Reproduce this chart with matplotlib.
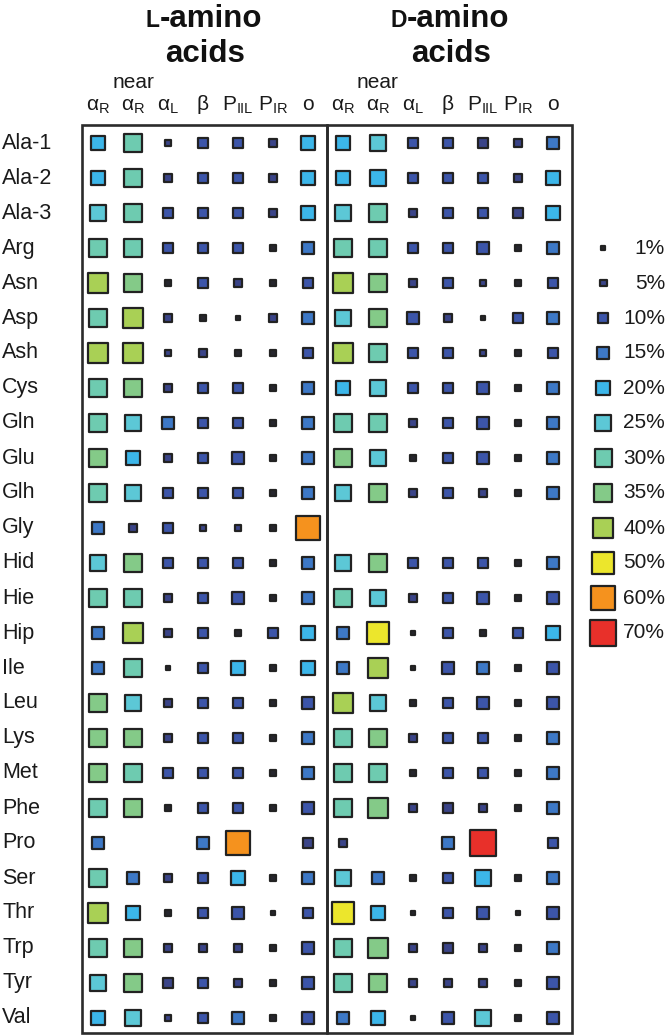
import numpy as np
import matplotlib
matplotlib.use('Agg')
import matplotlib.pyplot as plt
from matplotlib.colors import ListedColormap, BoundaryNorm
from matplotlib.patches import Rectangle

plt.rcParams['font.family'] = ['Liberation Sans', 'DejaVu Sans']

residues = ['Ala-1', 'Ala-2', 'Ala-3', 'Arg', 'Asn', 'Asp', 'Ash', 'Cys', 'Gln',
            'Glu', 'Glh', 'Gly', 'Hid', 'Hie', 'Hip', 'Ile', 'Leu', 'Lys', 'Met',
            'Phe', 'Pro', 'Ser', 'Thr', 'Trp', 'Tyr', 'Val']

state_labels = [r'α$_\mathregular{R}$', r'α$_\mathregular{R}$', r'α$_\mathregular{L}$',
                'β', r'P$_\mathregular{IIL}$', r'P$_\mathregular{IR}$', 'o']

N = None
# columns: aR, near aR, aL, beta, PIIL, PIR, o   (percent population)
L_values = [
    [22, 30, 5, 11, 10, 6, 20],
    [22, 30, 8, 11, 10, 7, 21],
    [26, 30, 10, 10, 10, 6, 21],
    [31, 33, 10, 11, 12, 4, 16],
    [42, 36, 3, 10, 7, 4, 12],
    [31, 44, 7, 4, 1, 6, 16],
    [42, 41, 5, 7, 4, 4, 11],
    [32, 36, 6, 10, 10, 4, 16],
    [30, 27, 15, 10, 11, 4, 16],
    [35, 23, 6, 10, 13, 4, 16],
    [31, 27, 12, 11, 11, 4, 16],
    [17, 6, 12, 5, 5, 3, 62],
    [26, 35, 10, 10, 10, 4, 16],
    [33, 33, 6, 10, 13, 3, 15],
    [15, 44, 8, 10, 4, 10, 20],
    [15, 31, 1, 11, 21, 3, 23],
    [37, 29, 6, 10, 12, 3, 13],
    [35, 35, 6, 10, 10, 3, 15],
    [35, 30, 12, 10, 10, 3, 15],
    [31, 37, 3, 10, 10, 4, 14],
    [15, N, N, 15, 60, N, 9],
    [30, 16, 6, 10, 21, 3, 15],
    [42, 21, 3, 10, 13, 2, 12],
    [33, 37, 7, 7, 7, 4, 14],
    [27, 35, 9, 10, 8, 4, 14],
    [21, 29, 5, 10, 17, 3, 14],
]

D_values = [
    [22, 26, 12, 10, 9, 6, 17],
    [22, 24, 11, 11, 11, 6, 21],
    [26, 30, 6, 11, 11, 9, 21],
    [32, 31, 10, 10, 13, 4, 16],
    [42, 37, 7, 10, 5, 4, 11],
    [27, 37, 14, 7, 1, 10, 16],
    [41, 33, 11, 11, 5, 4, 10],
    [22, 27, 12, 11, 13, 4, 16],
    [31, 31, 7, 11, 13, 4, 16],
    [35, 26, 4, 12, 14, 4, 16],
    [28, 37, 7, 10, 8, 4, 16],
    [N, N, N, N, N, N, N],
    [26, 35, 11, 11, 10, 4, 16],
    [33, 29, 7, 11, 14, 3, 14],
    [15, 50, 1, 12, 3, 12, 22],
    [15, 45, 2, 14, 16, 3, 14],
    [40, 28, 3, 11, 13, 3, 14],
    [34, 35, 6, 10, 11, 3, 15],
    [34, 34, 3, 12, 12, 4, 15],
    [31, 38, 7, 9, 8, 4, 15],
    [6, N, N, 16, 70, N, 11],
    [29, 16, 4, 11, 24, 3, 15],
    [50, 23, 1, 10, 13, 2, 14],
    [31, 38, 7, 9, 8, 3, 15],
    [31, 37, 6, 7, 7, 3, 14],
    [15, 22, 2, 14, 28, 3, 14],
]

legend_values = [1, 5, 10, 15, 20, 25, 30, 35, 40, 50, 60, 70]
legend_colors = ['#26262e', '#3a4488', '#3c55a9', '#3d78c6', '#3cb6e9', '#5cc8d6',
                 '#6ecbb0', '#84ca88', '#a9d055', '#ece62c', '#f5921e', '#e8302a']

cmap = ListedColormap(legend_colors)
norm = BoundaryNorm([0] + legend_values[1:] + [101], cmap.N)


def size_of(v):
    return 5.0 * np.asarray(v, dtype=float)


fig = plt.figure(figsize=(6.66, 10.36), dpi=100)
ax = fig.add_axes([0, 0, 1, 1])
# pixel-like layout: column i at 98 + 35 i px, row j at 143 + 35 j px
ax.set_xlim(-98 / 35, (666 - 98) / 35)
ax.set_ylim((1036 - 143) / 35, -143 / 35)
ax.axis('off')

xs, ys, vs = [], [], []
for j, res in enumerate(residues):
    for block, table in enumerate([L_values, D_values]):
        for k, v in enumerate(table[j]):
            if v is None:
                continue
            xs.append(block * 7 + k)
            ys.append(j)
            vs.append(v)
vs = np.array(vs, dtype=float)
ax.scatter(xs, ys, s=size_of(vs), c=vs, cmap=cmap, norm=norm, marker='s',
           edgecolors='#222222', linewidths=1.6, zorder=3)

# boxes
for b in range(2):
    ax.add_patch(Rectangle((-0.46 + 7 * b, -0.51), 7.0, 25.94, fill=False,
                           lw=1.9, ec='#2b2b2b', zorder=2))

# row labels
for j, res in enumerate(residues):
    ax.text(-2.74, j, res, ha='left', va='center', fontsize=15.5, color='#1a1a1a')

# column labels
for b in range(2):
    for k, lab in enumerate(state_labels):
        ax.text(b * 7 + k, -0.94, lab, ha='center', va='baseline', fontsize=15,
                color='#1a1a1a')
    ax.text(b * 7 + 1, -1.57, 'near', ha='center', va='baseline', fontsize=15,
            color='#1a1a1a')

# titles with small-cap L / D
for anchor, cap, acid_x in [(1.77, 'L', 3.06), (8.82, 'D', 10.08)]:
    ax.text(anchor, -3.31, cap, ha='right', va='baseline', fontsize=16.5,
            fontweight='bold', color='#111111')
    ax.text(anchor, -3.31, '-amino', ha='left', va='baseline', fontsize=22.5,
            fontweight='bold', color='#111111')
    ax.text(acid_x, -2.31, 'acids', ha='center', va='baseline', fontsize=22.5,
            fontweight='bold', color='#111111')

# legend
leg_rows = np.arange(3, 3 + len(legend_values))
ax.scatter(np.full(len(legend_values), 14.43), leg_rows, s=size_of(legend_values),
           c=legend_values, cmap=cmap, norm=norm, marker='s',
           edgecolors='#222222', linewidths=1.6, zorder=3)
for r, v in zip(leg_rows, legend_values):
    ax.text(16.2, r, f'{v}%', ha='right', va='center', fontsize=15, color='#1a1a1a')

fig.savefig('out.png', dpi=100)
